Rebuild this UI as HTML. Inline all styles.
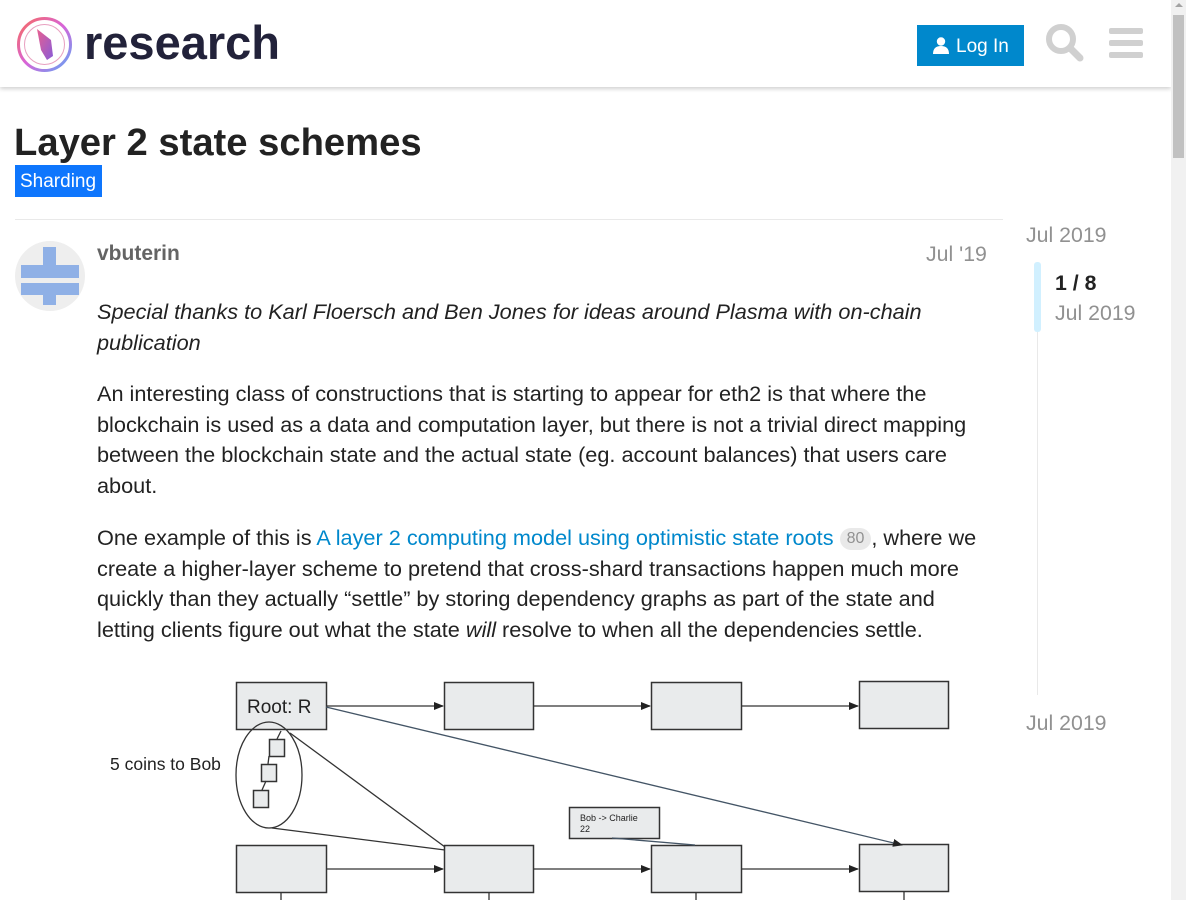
<!DOCTYPE html>
<html><head><meta charset="utf-8">
<style>
*{margin:0;padding:0;box-sizing:border-box}
html,body{width:1186px;height:900px;overflow:hidden;background:#fff;font-family:"Liberation Sans",sans-serif;color:#222}
.abs{position:absolute}
.hdr{position:absolute;left:0;top:0;width:1171px;height:87px;background:#fff;box-shadow:0 2px 4px rgba(0,0,0,.18)}
.p{position:absolute;left:97px;font-size:21.7px;line-height:30.5px;color:#222;white-space:nowrap}
.gray{color:#919191}
</style></head><body>
<div class="hdr">
  <svg class="abs" style="left:16px;top:16px" width="57" height="57" viewBox="0 0 57 57">
    <defs><linearGradient id="g" x1="0" y1="0" x2="1" y2="1"><stop offset="0" stop-color="#f76b5e"/><stop offset=".5" stop-color="#d864d8"/><stop offset="1" stop-color="#5fa6f5"/></linearGradient>
    <linearGradient id="g2" x1="0" y1="0" x2="1" y2="1"><stop offset="0" stop-color="#e96090"/><stop offset="1" stop-color="#8a5bd8"/></linearGradient></defs>
    <circle cx="28.5" cy="28.5" r="26" fill="none" stroke="url(#g)" stroke-width="3"/>
    <circle cx="28.5" cy="28.5" r="20" fill="none" stroke="#e8a0c0" stroke-width="1"/>
    <polygon points="21,13 35,24 37,40 31,44 25,34" fill="url(#g2)"/>
  </svg>
  <div class="abs" style="left:84px;top:15px;font-size:47px;font-weight:bold;color:#22223a">research</div>
  <div class="abs" style="left:917px;top:25px;width:107px;height:41px;background:#0088cc;color:#fff;font-size:19px;line-height:41px">
    <svg class="abs" style="left:16px;top:12px" width="16" height="17" viewBox="0 0 16 17"><circle cx="8" cy="4.5" r="4.2" fill="#fff"/><path d="M0 17 Q0 9 8 9 Q16 9 16 17Z" fill="#fff"/></svg>
    <span class="abs" style="left:39px;top:1px">Log In</span>
  </div>
  <svg class="abs" style="left:1045px;top:23px" width="40" height="40" viewBox="0 0 40 40"><circle cx="16" cy="16" r="12" fill="none" stroke="#d0d0d0" stroke-width="6"/><line x1="25" y1="25" x2="35" y2="35" stroke="#d0d0d0" stroke-width="7" stroke-linecap="round"/></svg>
  <div class="abs" style="left:1109px;top:28px;width:34px;height:6px;background:#d0d0d0;border-radius:2px"></div>
  <div class="abs" style="left:1109px;top:40px;width:34px;height:6px;background:#d0d0d0;border-radius:2px"></div>
  <div class="abs" style="left:1109px;top:52px;width:34px;height:6px;background:#d0d0d0;border-radius:2px"></div>
</div>
<div class="abs" style="left:1171px;top:0;width:15px;height:900px;background:#f1f1f1"></div>
<div class="abs" style="left:1173px;top:15px;width:11px;height:143px;background:#c1c1c1"></div>
<div class="abs" style="left:1175px;top:3px;width:0;height:0;border-left:4px solid transparent;border-right:4px solid transparent;border-bottom:4px solid #a3a3a3"></div>

<div class="abs" style="left:14px;top:121px;font-size:38.2px;font-weight:bold;color:#222">Layer 2 state schemes</div>
<div class="abs" style="left:15px;top:165px;width:87px;height:32px;background:#0e76fd;color:#fff;font-size:19px;line-height:32px;padding-left:5px;padding-top:1px">Sharding</div>
<div class="abs" style="left:15px;top:219px;width:988px;height:1px;background:#e9e9e9"></div>

<svg class="abs" style="left:15px;top:241px" width="70" height="70" viewBox="0 0 70 70">
  <circle cx="35" cy="35" r="35" fill="#eeeeee"/>
  <rect x="28" y="6" width="13" height="58" fill="#8fb0e6"/>
  <rect x="6" y="24" width="58" height="13" fill="#8fb0e6"/>
  <rect x="6" y="42" width="58" height="12" fill="#8fb0e6"/>
  <rect x="28" y="37" width="13" height="5" fill="#eeeeee"/>
</svg>
<div class="abs" style="left:97px;top:242px;font-size:21px;font-weight:bold;color:#646464">vbuterin</div>
<div class="abs gray" style="left:926px;top:242px;font-size:21.3px">Jul '19</div>

<div class="p" style="top:297px;font-style:italic">Special thanks to Karl Floersch and Ben Jones for ideas around Plasma with on-chain<br>publication</div>
<div class="p" style="top:379px">An interesting class of constructions that is starting to appear for eth2 is that where the<br>blockchain is used as a data and computation layer, but there is not a trivial direct mapping<br>between the blockchain state and the actual state (eg. account balances) that users care<br>about.</div>
<div class="p" style="top:523px">One example of this is <span style="color:#0088cc">A layer 2 computing model using optimistic state roots</span> <span style="display:inline-block;background:#e9e9e9;color:#919191;font-size:16px;line-height:22px;padding:0 7px;border-radius:11px;vertical-align:2px">80</span>, where we<br>create a higher-layer scheme to pretend that cross-shard transactions happen much more<br>quickly than they actually “settle” by storing dependency graphs as part of the state and<br>letting clients figure out what the state <i>will</i> resolve to when all the dependencies settle.</div>

<div class="abs gray" style="left:1026px;top:223px;font-size:21.3px">Jul 2019</div>
<div class="abs" style="left:1034px;top:262px;width:7px;height:70px;background:#d1f0ff;border-radius:3px"></div>
<div class="abs" style="left:1037px;top:332px;width:1px;height:363px;background:#e9e9e9"></div>
<div class="abs" style="left:1055px;top:271px;font-size:21.3px;font-weight:bold;color:#222">1 / 8</div>
<div class="abs gray" style="left:1055px;top:301px;font-size:21.3px">Jul 2019</div>
<div class="abs gray" style="left:1026px;top:711px;font-size:21.3px">Jul 2019</div>

<svg class="abs" style="left:0;top:0" width="1171" height="900" viewBox="0 0 1171 900">
  <defs><marker id="a" markerWidth="10" markerHeight="8" refX="9" refY="4" orient="auto" markerUnits="userSpaceOnUse"><polygon points="0,0 10,4 0,8" fill="#222"/></marker></defs>
  <g fill="#e9ebec" stroke="#333" stroke-width="1.5">
    <rect x="236.5" y="682.5" width="90" height="47"/><rect x="444.5" y="682.5" width="89" height="47"/><rect x="651.5" y="682.5" width="90" height="47"/><rect x="859.5" y="681.5" width="89" height="47"/>
    <rect x="236.5" y="845.5" width="90" height="47"/><rect x="444.5" y="845.5" width="89" height="47"/><rect x="651.5" y="845.5" width="90" height="47"/><rect x="859.5" y="844.5" width="89" height="47"/>
    <rect x="569.5" y="807.5" width="90" height="31"/>
    <rect x="269.5" y="739.5" width="15" height="17"/><rect x="261.5" y="764.5" width="15" height="17"/><rect x="253.5" y="790.5" width="15" height="17"/>
  </g>
  <g stroke="#333" stroke-width="1.3" fill="none">
    <ellipse cx="269" cy="775" rx="33" ry="53"/>
    <line x1="277" y1="739" x2="281" y2="731"/><line x1="269" y1="756" x2="268" y2="764"/><line x1="266" y1="781" x2="262" y2="790"/>
    <line x1="290" y1="733" x2="445" y2="847"/><line x1="272" y1="828" x2="445" y2="850"/>
    <line x1="326" y1="706" x2="443" y2="706" marker-end="url(#a)"/>
    <line x1="533" y1="706" x2="650" y2="706" marker-end="url(#a)"/>
    <line x1="741" y1="706" x2="858" y2="706" marker-end="url(#a)"/>
    <line x1="326" y1="869" x2="443" y2="869" marker-end="url(#a)"/>
    <line x1="533" y1="869" x2="650" y2="869" marker-end="url(#a)"/>
    <line x1="741" y1="869" x2="858" y2="869" marker-end="url(#a)"/>
    <line x1="326" y1="707" x2="902" y2="845" stroke="#456" marker-end="url(#a)"/>
    <line x1="612" y1="838" x2="695" y2="845" stroke="#456"/>
    <line x1="281" y1="892" x2="281" y2="900"/><line x1="489" y1="892" x2="489" y2="900"/><line x1="696" y1="892" x2="696" y2="900"/><line x1="904" y1="891" x2="904" y2="900"/>
  </g>
  <text x="247" y="713" font-family="Liberation Sans,sans-serif" font-size="19" fill="#222">Root: R</text>
  <text x="110" y="770" font-family="Liberation Sans,sans-serif" font-size="17.5" fill="#222">5 coins to Bob</text>
  <text x="580" y="821" font-family="Liberation Sans,sans-serif" font-size="9" fill="#222">Bob -&gt; Charlie</text>
  <text x="580" y="832" font-family="Liberation Sans,sans-serif" font-size="9" fill="#222">22</text>
</svg>
</body></html>
